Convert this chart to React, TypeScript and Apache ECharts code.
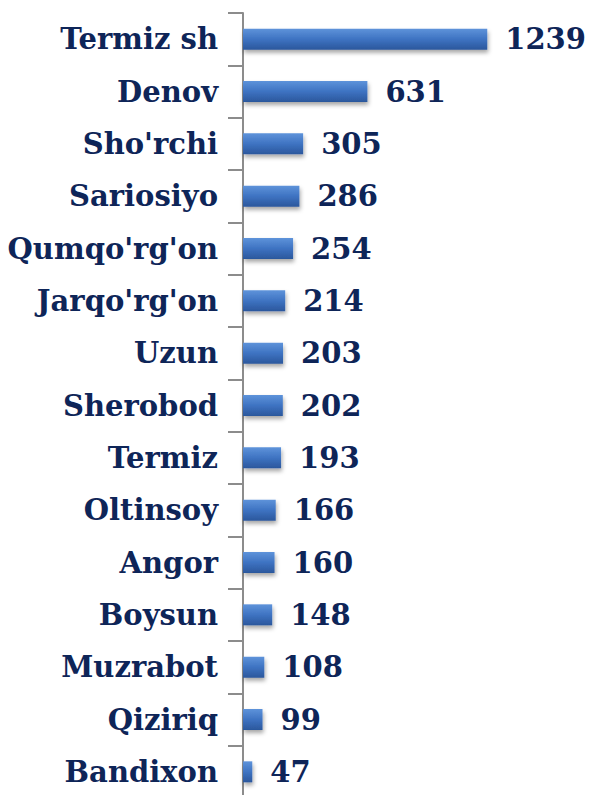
import React, { useEffect, useRef } from "react";
import * as echarts from "echarts";

const categories = ["Termiz sh", "Denov", "Sho'rchi", "Sariosiyo", "Qumqo'rg'on", "Jarqo'rg'on", "Uzun", "Sherobod", "Termiz", "Oltinsoy", "Angor", "Boysun", "Muzrabot", "Qiziriq", "Bandixon"];
const values = [1239, 631, 305, 286, 254, 214, 203, 202, 193, 166, 160, 148, 108, 99, 47];

const textColor = "#0E2558";
const font = "'DejaVu Serif', 'Liberation Serif', serif";

export default function App() {
  const ref = useRef<HTMLDivElement>(null);
  useEffect(() => {
    const chart = echarts.init(ref.current!, null, { renderer: "svg" });
    chart.setOption({
      animation: false,
      backgroundColor: "#ffffff",
      grid: { left: 243, right: 71, top: 13, bottom: 2, containLabel: false },
      xAxis: {
        type: "value",
        min: 0,
        max: 1400,
        show: false,
      },
      yAxis: {
        type: "category",
        data: categories,
        inverse: true,
        axisLine: { show: true, lineStyle: { color: "#8c8c8c", width: 2 } },
        axisTick: { show: true, length: 15, lineStyle: { color: "#8c8c8c", width: 2 } },
        axisLabel: {
          margin: 25,
          color: textColor,
          fontFamily: font,
          fontWeight: "bold",
          fontSize: 29,
        },
      },
      series: [
        {
          type: "bar",
          data: values,
          barWidth: 21,
          itemStyle: {
            color: new echarts.graphic.LinearGradient(0, 0, 0, 1, [
              { offset: 0, color: "#5E93DA" },
              { offset: 0.5, color: "#3E73C2" },
              { offset: 1, color: "#2B579C" },
            ]),
            shadowColor: "rgba(0,0,0,0.35)",
            shadowBlur: 4,
            shadowOffsetX: 1,
            shadowOffsetY: 3,
          },
          label: {
            show: true,
            position: "right",
            distance: 18,
            color: textColor,
            fontFamily: font,
            fontWeight: "bold",
            fontSize: 29,
          },
        },
      ],
    });
    return () => chart.dispose();
  }, []);
  return (
    <div
      ref={ref}
      style={{ position: "absolute", left: 0, top: 0, width: 590, height: 800 }}
    />
  );
}
